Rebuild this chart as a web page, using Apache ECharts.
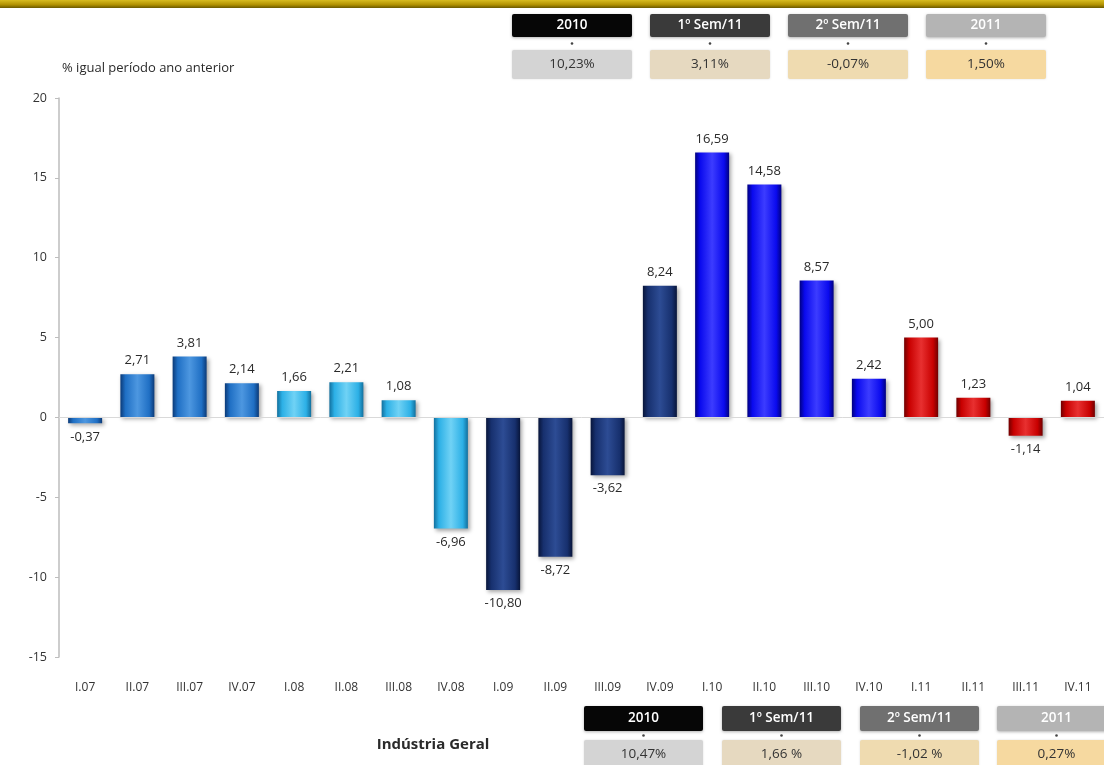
<!DOCTYPE html>
<html>
<head>
<meta charset="utf-8">
<style>
  html, body { margin: 0; padding: 0; background: #ffffff; }
  #chart { width: 1104px; height: 765px; }
</style>
<script src="https://cdn.jsdelivr.net/npm/echarts@6/dist/echarts.min.js"></script>
</head>
<body>
<div id="chart"></div>
<script>
// Quarterly change of general industry output, % vs same period of previous year
const quarters = ['I.07', 'II.07', 'III.07', 'IV.07', 'I.08', 'II.08', 'III.08', 'IV.08',
  'I.09', 'II.09', 'III.09', 'IV.09', 'I.10', 'II.10', 'III.10', 'IV.10',
  'I.11', 'II.11', 'III.11', 'IV.11'];
const growth = [-0.37, 2.71, 3.81, 2.14, 1.66, 2.21, 1.08, -6.96,
  -10.80, -8.72, -3.62, 8.24, 16.59, 14.58, 8.57, 2.42,
  5.00, 1.23, -1.14, 1.04];
const yTicks = [20, 15, 10, 5, 0, -5, -10, -15];

// Summary boxes (upper and lower panels)
const periodNames = ['2010', '1º Sem/11', '2º Sem/11', '2011'];
const upperSummary = ['10,23%', '3,11%', '-0,07%', '1,50%'];
const lowerSummary = ['10,47%', '1,66 %', '-1,02 %', '0,27%'];

// Bar palette, one base colour per year
const yearPalette = [
  { base: '#1f6fc4', dark: '#0b3a78', light: '#4d97e0' },
  { base: '#2cb0e6', dark: '#12709e', light: '#70d2f5' },
  { base: '#17306e', dark: '#08153a', light: '#2d4c94' },
  { base: '#0a0aee', dark: '#000080', light: '#3c3cff' },
  { base: '#c80000', dark: '#700000', light: '#e83030' }
];

const fmt = v => v.toFixed(2).replace('.', ',');

function barStyle(i) {
  const p = yearPalette[Math.floor(i / 4)];
  return {
    color: {
      type: 'linear', x: 0, y: 0, x2: 1, y2: 0,
      colorStops: [
        { offset: 0, color: p.dark },
        { offset: 0.15, color: p.base },
        { offset: 0.5, color: p.light },
        { offset: 0.85, color: p.base },
        { offset: 1, color: p.dark }
      ]
    },
    shadowColor: 'rgba(0,0,0,0.35)',
    shadowBlur: 4,
    shadowOffsetX: 2,
    shadowOffsetY: 2
  };
}

// Period boxes
const headerFills = ['#060606', '#3a3a3a', '#707070', '#b4b4b4'];
const valueFills = ['#d4d4d4', '#e6d9c0', '#efdbb0', '#f6d9a0'];
const FONT = '"Open Sans", "Noto Sans", sans-serif';

function summaryPanel(xs, yHead, hHead, yVal, hVal, w, values) {
  const els = [];
  xs.forEach((x, k) => {
    els.push({
      type: 'rect', shape: { x: x, y: yHead, width: w, height: hHead, r: 2 },
      style: { fill: headerFills[k], shadowColor: 'rgba(0,0,0,0.3)', shadowBlur: 3, shadowOffsetY: 1 }
    });
    els.push({
      type: 'text', x: x + w / 2, y: yHead + hHead / 2,
      style: { text: periodNames[k], fill: '#ffffff', font: '600 13.5px ' + FONT,
        align: 'center', verticalAlign: 'middle' }
    });
    els.push({
      type: 'circle', shape: { cx: x + w / 2, cy: (yHead + hHead + yVal) / 2, r: 1.3 },
      style: { fill: '#444' }
    });
    els.push({
      type: 'rect', shape: { x: x, y: yVal, width: w, height: hVal, r: 2 },
      style: { fill: valueFills[k], shadowColor: 'rgba(0,0,0,0.15)', shadowBlur: 2 }
    });
    els.push({
      type: 'text', x: x + w / 2, y: yVal + hVal / 2,
      style: { text: values[k], fill: '#333', font: '13.5px ' + FONT,
        align: 'center', verticalAlign: 'middle' }
    });
  });
  return els;
}

const chart = echarts.init(document.getElementById('chart'));

const graphics = [
  // gold band along the top edge
  {
    type: 'rect', shape: { x: 0, y: 0, width: 1104, height: 8 },
    style: { fill: { type: 'linear', x: 0, y: 0, x2: 0, y2: 1,
      colorStops: [{ offset: 0, color: '#d8bc20' }, { offset: 0.6, color: '#b09000' }, { offset: 1, color: '#6a5800' }] } }
  },
  {
    type: 'text', x: 62, y: 68,
    style: { text: '% igual período ano anterior', fill: '#2a2a2a', font: '13px ' + FONT,
      verticalAlign: 'middle' }
  },
  {
    type: 'text', x: 433, y: 745,
    style: { text: 'Indústria Geral', fill: '#2a2a2a', font: 'bold 15px ' + FONT,
      align: 'center', verticalAlign: 'middle' }
  }
].concat(
  summaryPanel([512, 650, 788, 926], 14, 23, 50, 29, 120, upperSummary),
  summaryPanel([584, 722, 860, 997], 706, 25, 740, 28, 119, lowerSummary)
);

chart.setOption({
  animation: false,
  backgroundColor: '#ffffff',
  grid: { left: 59, right: -4, top: 98, bottom: 108 },
  xAxis: {
    type: 'category',
    data: quarters,
    axisLine: { show: false },
    axisTick: { show: false },
    axisLabel: {
      interval: 0, margin: 25, color: '#333', fontSize: 12, fontFamily: FONT
    }
  },
  yAxis: {
    type: 'value',
    min: -15, max: 20, interval: 5,
    axisLine: { show: true, lineStyle: { color: '#bdbdbd', width: 1.5 } },
    axisTick: { show: true, length: 4, lineStyle: { color: '#bdbdbd' } },
    splitLine: { show: false },
    axisLabel: {
      margin: 12, color: '#333', fontSize: 12.5, fontFamily: FONT,
      formatter: v => (yTicks.indexOf(v) >= 0 ? String(v) : '')
    }
  },
  series: [{
    type: 'bar',
    // negative values carry their label beneath the bar
    data: growth.map((v, i) => ({
      value: v,
      itemStyle: barStyle(i),
      label: v < 0 ? { position: 'bottom' } : undefined
    })),
    barWidth: 34,
    label: {
      show: true,
      position: 'top',
      distance: 7,
      color: '#2a2a2a',
      fontSize: 13,
      fontFamily: FONT,
      formatter: p => fmt(p.value)
    },
    markLine: {
      silent: true,
      symbol: 'none',
      label: { show: false },
      lineStyle: { color: '#d9d9d9', type: 'solid', width: 1 },
      data: [{ yAxis: 0 }]
    }
  }],
  graphic: graphics
});
</script>
</body>
</html>
